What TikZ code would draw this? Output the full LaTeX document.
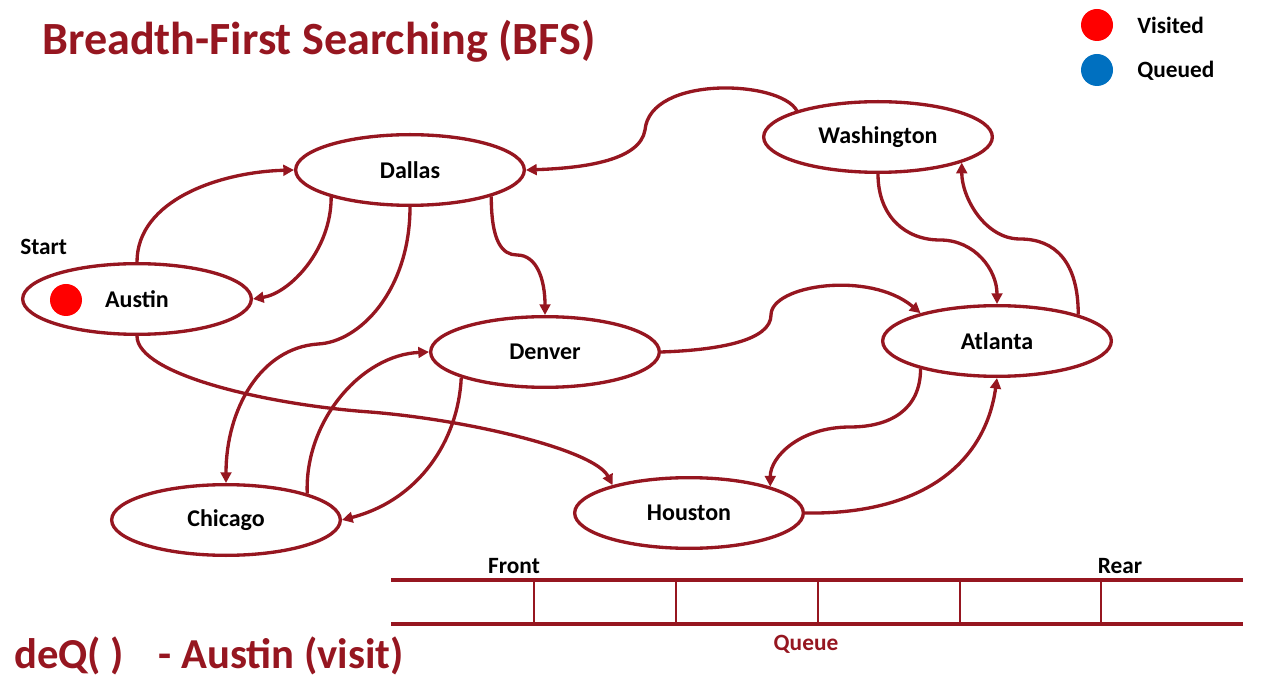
\documentclass[tikz,border=0pt]{standalone}
\usepackage{fontspec}
\setmainfont{Carlito}
\usetikzlibrary{shapes.geometric,arrows.meta}
\definecolor{dred}{RGB}{150,22,32}
\definecolor{vred}{RGB}{255,0,0}
\definecolor{qblue}{RGB}{0,112,192}
\begin{document}
\begin{tikzpicture}[x=0.75pt,y=-0.75pt,
  city/.style={ellipse, draw=dred, line width=2.5pt, fill=white,
    minimum width=171.5pt, minimum height=53pt, inner sep=0pt,
    font=\bfseries\fontsize{18}{20}\selectfont},
  link/.style={draw=dred, line width=2.5pt, -{Triangle[length=8pt,width=8pt]}},
  lbl/.style={inner sep=0pt, font=\bfseries\fontsize{17.5}{20}\selectfont},
  dot/.style={circle, minimum size=24pt, inner sep=0pt},
  qline/.style={draw=dred, line width=2.4pt},
  qdiv/.style={draw=dred, line width=2pt}]
\useasboundingbox (0,0) rectangle (1266,680);
% title
\node[anchor=base west, inner sep=0pt, text=dred, font=\bfseries\fontsize{34.6}{40}\selectfont] (title) at (42,55) {Breadth-First Searching (BFS)};
% legend
\node[dot, fill=vred] (lv) at (1097,25) {};
\node[dot, fill=qblue] (lq) at (1097,70) {};
\node[lbl, anchor=west] (lvt) at (1137,25) {Visited};
\node[lbl, anchor=west] (lqt) at (1137,71) {Queued};
% cities
\node[city] (Dallas) at (410,170) {Dallas};
\node[city] (Austin) at (137,299) {Austin};
\node[city] (Washington) at (878,137) {Washington};
\node[city] (Denver) at (545,352) {Denver};
\node[city] (Atlanta) at (997,341) {Atlanta};
\node[city] (Chicago) at (226,520) {Chicago};
\node[city] (Houston) at (689,513) {Houston};
\node[dot, fill=vred] (adot) at (66,300) {};
\node[lbl, anchor=base west] (start) at (20,255) {Start};
% bend points
\coordinate (k1) at (318,344);
\coordinate (k2) at (517,255);
\coordinate (k3) at (645,130);
\coordinate (k4) at (771,315);
\coordinate (k5) at (940,240);
\coordinate (k6) at (1020,239);
\coordinate (k7) at (850,427);
\coordinate (k8) at (370,412);
% edges
\draw[link] (Austin.north) .. controls +(0,-62) and +(-74,2) .. (Dallas.west);
\draw[link] (Dallas.199) .. controls +(0,53) and +(37,-6) .. (Austin.east);
\draw[link] (Dallas.south) .. controls +(0,83) and +(42,-2) .. (k1) .. controls +(-58,4) and +(0,-73) .. (Chicago.north);
\draw[link] (Dallas.-18) .. controls +(0,45) and +(-15,0) .. (k2) .. controls +(20,0) and +(0,-35) .. (Denver.north);
\draw[link] (Washington.162) .. controls (780,80) and (650,75) .. (k3) .. controls +(-5,30) and +(60,-2) .. (Dallas.east);
\draw[link] (Denver.east) .. controls +(60,-2) and +(0,25) .. (k4) .. controls +(0,-30) and +(-51,-43) .. (Atlanta.160);
\draw[link] (Washington.south) .. controls +(0,42) and +(-35,0) .. (k5) .. controls +(35,0) and +(0,-34) .. (Atlanta.north);
\draw[link] (Atlanta.18) .. controls +(0,-53) and +(35,0) .. (k6) .. controls +(-35,0) and +(0,35) .. (Washington.-17);
\draw[link] (Atlanta.200) .. controls +(0,41) and +(40,0) .. (k7) .. controls +(-50,0) and +(0,-30) .. (Houston.18);
\draw[link] (Houston.east) .. controls +(115,2) and +(-12,87) .. (Atlanta.south);
\draw[link] (Austin.south) .. controls +(0,39) and +(-100,-7) .. (k8) .. controls +(100,8) and +(-18,-35) .. (Houston.160);
\draw[link] (Chicago.18) .. controls +(-3,-72) and +(-68,3) .. (Denver.west);
\draw[link] (Denver.197) .. controls +(-3,63) and +(77,-20) .. (Chicago.east);
% queue
\draw[qline] (391,580) -- (1243,580);
\draw[qline] (391,624) -- (1243,624);
\foreach \qx in {534,676,818,960,1101} \draw[qdiv] (\qx,580) -- (\qx,624);
\node[lbl, anchor=base] (front) at (514,573) {Front};
\node[lbl, anchor=base] (rear) at (1120,573) {Rear};
\node[lbl, anchor=base, text=dred] (queue) at (806,650) {Queue};
% status
\node[anchor=base west, inner sep=0pt, text=dred, font=\bfseries\fontsize{32}{36}\selectfont] (deq) at (14,668) {deQ(\ )\hspace{26pt}- Austin (visit)};
\end{tikzpicture}
\end{document}
